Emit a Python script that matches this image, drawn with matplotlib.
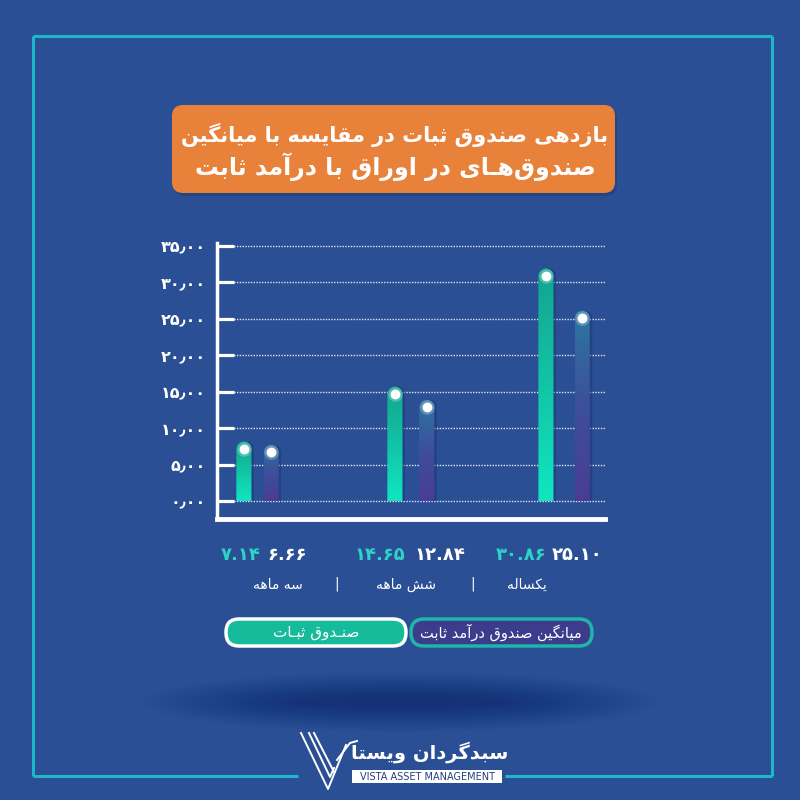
import numpy as np
import matplotlib
matplotlib.use('Agg')
import matplotlib.pyplot as plt
from matplotlib.patches import FancyBboxPatch, PathPatch, Ellipse
from matplotlib.path import Path
from matplotlib.colors import LinearSegmentedColormap

plt.rcParams['font.family'] = ['DejaVu Sans']

# data
periods = ['سه ماهه', 'شش ماهه', 'یکساله']
fund_ret = [7.14, 14.65, 30.86]      # صندوق ثبات
avg_ret = [6.66, 12.84, 25.10]       # میانگین صندوق درآمد ثابت
yticks = [0, 5, 10, 15, 20, 25, 30, 35]
title_lines = ['بازدهی صندوق ثبات در مقایسه با میانگین',
               'صندوق\u200cهـای در اوراق با درآمد ثابت']
legend_fund = 'صنـدوق ثبـات'
legend_avg = 'میانگین صندوق درآمد ثابت'
brand_fa = 'سبدگردان ویستا'
brand_en = 'VISTA ASSET MANAGEMENT'

BG = '#2a4f94'
FRAME = '#20b6ca'
TEAL_TXT = '#2fd3c6'

# simple persian shaping (presentation forms + rtl order)
FORMS = {
    'ا': ('\uFE8D', '\uFE8E', None, None),
    'آ': ('\uFE81', '\uFE82', None, None),
    'ب': ('\uFE8F', '\uFE90', '\uFE91', '\uFE92'),
    'ت': ('\uFE95', '\uFE96', '\uFE97', '\uFE98'),
    'ث': ('\uFE99', '\uFE9A', '\uFE9B', '\uFE9C'),
    'د': ('\uFEA9', '\uFEAA', None, None),
    'ر': ('\uFEAD', '\uFEAE', None, None),
    'ز': ('\uFEAF', '\uFEB0', None, None),
    'س': ('\uFEB1', '\uFEB2', '\uFEB3', '\uFEB4'),
    'ش': ('\uFEB5', '\uFEB6', '\uFEB7', '\uFEB8'),
    'ص': ('\uFEB9', '\uFEBA', '\uFEBB', '\uFEBC'),
    'ق': ('\uFED5', '\uFED6', '\uFED7', '\uFED8'),
    'ل': ('\uFEDD', '\uFEDE', '\uFEDF', '\uFEE0'),
    'م': ('\uFEE1', '\uFEE2', '\uFEE3', '\uFEE4'),
    'ن': ('\uFEE5', '\uFEE6', '\uFEE7', '\uFEE8'),
    'ه': ('\uFEE9', '\uFEEA', '\uFEEB', '\uFEEC'),
    'و': ('\uFEED', '\uFEEE', None, None),
    'ی': ('\uFBFC', '\uFBFD', '\uFBFE', '\uFBFF'),
    'ک': ('\uFB8E', '\uFB8F', '\uFB90', '\uFB91'),
    'گ': ('\uFB92', '\uFB93', '\uFB94', '\uFB95'),
}
KASH = '\u0640'


def joins_fwd(c):
    return c == KASH or (c in FORMS and FORMS[c][2] is not None)


def fa(text):
    out = []
    for i, c in enumerate(text):
        if c == '\u200c':
            continue
        if c not in FORMS:
            out.append(c)
            continue
        prev = text[i - 1] if i > 0 else ''
        nxt = text[i + 1] if i < len(text) - 1 else ''
        p = joins_fwd(prev)
        n = FORMS[c][2] is not None and (nxt in FORMS or nxt == KASH)
        iso, fin, ini, med = FORMS[c]
        if p and n:
            out.append(med)
        elif p:
            out.append(fin)
        elif n:
            out.append(ini)
        else:
            out.append(iso)
    return ''.join(reversed(out))


def fa_num(s):
    return s.translate(str.maketrans('0123456789', '۰۱۲۳۴۵۶۷۸۹'))


fig = plt.figure(figsize=(8, 8), dpi=100, facecolor=BG)

# pixel overlay for decoration
bg = fig.add_axes([0, 0, 1, 1], zorder=0)
bg.set_xlim(0, 800)
bg.set_ylim(800, 0)
bg.axis('off')
bg.set_facecolor(BG)

# frame
fc = dict(color=FRAME, lw=2.2, solid_capstyle='butt')
bg.plot([33, 772], [36, 36], **fc)
bg.plot([33, 33], [36, 776], **fc)
bg.plot([772, 772], [36, 776], **fc)
bg.plot([33, 298], [776, 776], **fc)
bg.plot([505, 772], [776, 776], **fc)

# title box
bg.add_patch(FancyBboxPatch((174, 108), 443, 88,
                            boxstyle='round,pad=0,rounding_size=11',
                            fc='#1f3b7a', ec='none', alpha=0.5))
bg.add_patch(FancyBboxPatch((172, 105), 443, 88,
                            boxstyle='round,pad=0,rounding_size=11',
                            fc='#e8823a', ec='none'))
bg.text(395, 135, fa(title_lines[0]), color='white', fontsize=15,
        fontweight='bold', ha='center', va='center')
bg.text(395, 167, fa(title_lines[1]), color='white', fontsize=17,
        fontweight='bold', ha='center', va='center')

# chart axes
L, R, B, T = 217, 605, 519, 243
ax = fig.add_axes([L / 800, 1 - B / 800, (R - L) / 800, (B - T) / 800], zorder=1)
ax.patch.set_alpha(0)
ymin, ymax = -2.47, 35.37
xmin, xmax = -0.258, 2.311
px_x = (R - L) / (xmax - xmin)
px_y = (B - T) / (ymax - ymin)

for s in ['top', 'right']:
    ax.spines[s].set_visible(False)
ax.spines['left'].set_color('white')
ax.spines['left'].set_linewidth(2.5)
ax.spines['bottom'].set_color('white')
ax.spines['bottom'].set_linewidth(3.5)
ax.set_yticks(yticks)
ax.set_yticklabels([fa_num(f'{t:.2f}').replace('.', '\u066b') for t in yticks],
                   fontweight='bold')
ax.tick_params(axis='y', direction='in', length=12, width=2.3, colors='white',
               labelsize=11.5, pad=8)
ax.set_xticks([])
ax.yaxis.grid(True, linestyle=(0, (1, 1)), color='white', lw=1, alpha=0.85)
ax.set_axisbelow(True)

fund_cmap = LinearSegmentedColormap.from_list('f', ['#10e6c1', '#12c4a6', '#13a38f'])
avg_cmap = LinearSegmentedColormap.from_list('a', ['#4a3c95', '#3d4f9b', '#2c77a0'])
grad = np.linspace(0, 1, 256).reshape(-1, 1)

bw = 0.1
x = np.arange(len(periods))


def draw_bar(xc, v, cmap):
    rx = bw / 2
    ry = rx * px_x / px_y
    x0, x1 = xc - rx, xc + rx
    t = np.linspace(0, np.pi, 30)
    verts = [(x0, 0), (x1, 0)] + [(xc + rx * np.cos(a), v + ry * np.sin(a)) for a in t] + [(x0, 0)]
    codes = [Path.MOVETO] + [Path.LINETO] * (len(verts) - 2) + [Path.CLOSEPOLY]
    patch = PathPatch(Path(verts, codes), fc='none', ec='none', transform=ax.transData)
    ax.add_patch(patch)
    # soft shadow
    sh = PathPatch(Path([(px + 2.5 / px_x, py) for px, py in verts], codes),
                   fc='#1b3170', ec='none', alpha=0.45, zorder=1.5)
    ax.add_patch(sh)
    im = ax.imshow(grad, extent=[x0, x1, 0, v + ry], origin='lower', aspect='auto',
                   cmap=cmap, zorder=2)
    im.set_clip_path(patch)
    ax.scatter([xc], [v], s=110, color='white', alpha=0.25, zorder=3, lw=0)
    ax.scatter([xc], [v], s=50, color='white', zorder=4, lw=0)


for i in range(len(periods)):
    draw_bar(x[i] - 0.08, fund_ret[i], fund_cmap)
    draw_bar(x[i] + 0.10 + 0.03 * i, avg_ret[i], avg_cmap)

ax.set_xlim(xmin, xmax)
ax.set_ylim(ymin, ymax)

# values and categories below chart
val_x = [(241, 287), (380, 440), (521, 577)]
cat_x = [278, 406, 527]
for i in range(len(periods)):
    bg.text(val_x[i][0], 555, fa_num(f'{fund_ret[i]:.2f}'), color=TEAL_TXT,
            fontsize=13, fontweight='bold', ha='center', va='center')
    bg.text(val_x[i][1], 555, fa_num(f'{avg_ret[i]:.2f}'), color='white',
            fontsize=13, fontweight='bold', ha='center', va='center')
    bg.text(cat_x[i], 585, fa(periods[i]), color='white', fontsize=10,
            ha='center', va='center')
for sx in [337, 473]:
    bg.text(sx, 584, '|', color='white', fontsize=10, ha='center', va='center')

# legend pills
bg.add_patch(FancyBboxPatch((226, 619), 180, 27, boxstyle='round,pad=0,rounding_size=13',
                            fc='#16bb9c', ec='white', lw=2.5))
bg.text(316, 632, fa(legend_fund), color='white', fontsize=11, ha='center', va='center')
bg.add_patch(FancyBboxPatch((411, 619), 181, 27, boxstyle='round,pad=0,rounding_size=13',
                            fc='#3b3d8c', ec='#1fb5a8', lw=2.5))
bg.text(501, 632, fa(legend_avg), color='white', fontsize=10.5, ha='center', va='center')

# soft shadow under legend
for k in range(30):
    f = k / 29
    bg.add_patch(Ellipse((400, 702), 520 - 320 * f, 60 - 50 * f,
                         fc='#17306f', ec='none', alpha=0.025))

# logo
wl = dict(color='white', lw=1.4)
bg.plot([301, 328, 346], [733, 789, 745], **wl)
bg.plot([309, 330, 334], [733, 777, 768], **wl)
bg.plot([314, 334], [733, 772], **wl)
bg.plot([337, 350, 357], [760, 743, 741], **wl)
bg.text(430, 752, fa(brand_fa), color='white', fontsize=14, fontweight='bold',
        ha='center', va='center')
bg.add_patch(FancyBboxPatch((352, 770), 150, 13, boxstyle='square,pad=0',
                            fc='white', ec='none'))
bg.text(427, 777, brand_en, color='#253f7d', fontsize=7, ha='center', va='center')

fig.savefig('out.png', dpi=100, facecolor=BG)
